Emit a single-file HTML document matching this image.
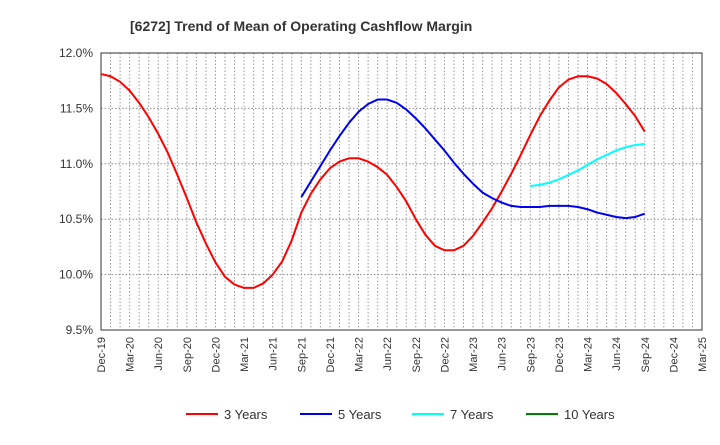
<!DOCTYPE html>
<html><head><meta charset="utf-8"><style>
body{margin:0;background:#fff;font-family:"Liberation Sans",sans-serif;}
</style></head><body>
<svg id="chart" width="720" height="440" xmlns="http://www.w3.org/2000/svg" font-family="Liberation Sans, sans-serif">
<text x="130" y="31" font-size="14" font-weight="bold" fill="#333">[6272]  Trend of Mean of Operating Cashflow Margin</text>
<g id="grid"></g><g id="axes"></g><g id="series"></g><g id="legend"></g>
</svg>
<script>
const xLabels=["Dec-19","Mar-20","Jun-20","Sep-20","Dec-20","Mar-21","Jun-21","Sep-21","Dec-21","Mar-22","Jun-22","Sep-22","Dec-22","Mar-23","Jun-23","Sep-23","Dec-23","Mar-24","Jun-24","Sep-24","Dec-24","Mar-25"];
const yTicks=[9.5,10.0,10.5,11.0,11.5,12.0];
const red3=[11.81,11.79,11.74,11.66,11.55,11.42,11.27,11.10,10.90,10.69,10.47,10.28,10.11,9.98,9.91,9.88,9.88,9.92,10.00,10.12,10.31,10.56,10.73,10.86,10.96,11.02,11.05,11.05,11.02,10.97,10.90,10.79,10.66,10.50,10.36,10.26,10.22,10.22,10.26,10.35,10.47,10.60,10.75,10.91,11.08,11.26,11.43,11.57,11.69,11.76,11.79,11.79,11.77,11.72,11.64,11.54,11.43,11.29];
const red3Start=0;
const blue5=[10.70,10.84,10.98,11.12,11.25,11.37,11.47,11.54,11.58,11.58,11.55,11.49,11.41,11.32,11.22,11.12,11.01,10.91,10.82,10.74,10.69,10.65,10.62,10.61,10.61,10.61,10.62,10.62,10.62,10.61,10.59,10.56,10.54,10.52,10.51,10.52,10.55];
const blue5Start=21;
const cyan7=[10.80,10.81,10.83,10.86,10.90,10.94,10.99,11.04,11.08,11.12,11.15,11.17,11.18];
const cyan7Start=45;
const green10=[];
const green10Start=57;

const NS="http://www.w3.org/2000/svg";
const L=101,R=702,T=53,B=330,months=63,yMin=9.5,yMax=12.0;
const xs=i=>L+(R-L)*i/months;
const ys=v=>B-(v-yMin)/(yMax-yMin)*(B-T);
function mk(tag,attrs,parent){const e=document.createElementNS(NS,tag);for(const k in attrs)e.setAttribute(k,attrs[k]);parent.appendChild(e);return e;}
const grid=document.getElementById('grid'),axes=document.getElementById('axes'),series=document.getElementById('series'),legend=document.getElementById('legend');
for(let i=1;i<months;i++){
  const l=mk('line',{x1:xs(i),x2:xs(i),y1:T,y2:B,stroke:'#999','stroke-dasharray':'1.5,2','stroke-width':1},grid);
  
  
}
yTicks.forEach(v=>{
  if(v>yMin&&v<yMax){const l=mk('line',{x1:L,x2:R,y1:ys(v),y2:ys(v),stroke:'#888','stroke-dasharray':'1.5,2','stroke-width':1},grid);
  
  }
  const t=mk('text',{x:L-8,y:ys(v)+4,'text-anchor':'end','font-size':12,fill:'#333'},axes);
  t.textContent=v.toFixed(1)+'%';
  
  
});
const frame=mk('rect',{x:L,y:T,width:R-L,height:B-T,fill:'none',stroke:'#333','stroke-width':1},axes);


xLabels.forEach((s,k)=>{
  const x=xs(k*3);
  const t=mk('text',{x:x+4,y:B+7,'text-anchor':'end','font-size':11,fill:'#333',transform:`rotate(-90 ${x+4} ${B+7})`},axes);
  t.textContent=s;
  
  
});
function line(vals,start,color,name){
  if(!vals.length)return;
  const d=vals.map((v,i)=>(i?'L':'M')+xs(start+i).toFixed(2)+','+ys(v).toFixed(2)).join(' ');
  const p=mk('path',{d:d,fill:'none',stroke:color,'stroke-width':2,'stroke-linejoin':'round'},series);
  
  
}
line(red3,red3Start,'#ff0000','series-3-years');
line(blue5,blue5Start,'#0000ee','series-5-years');
line(cyan7,cyan7Start,'#00ffff','series-7-years');
line(green10,green10Start,'#008000','series-10-years');
const leg=[["3 Years","#ff0000",186],["5 Years","#0000ee",300],["7 Years","#00ffff",412],["10 Years","#008000",526]];
leg.forEach(([s,c,x])=>{
  const g=mk('g',{},legend);
  
  
  mk('line',{x1:x,x2:x+32,y1:414,y2:414,stroke:c,'stroke-width':2},g);
  const t=mk('text',{x:x+38,y:419,'font-size':13,fill:'#333'},g);
  t.textContent=s;
});
</script>
</body></html>
